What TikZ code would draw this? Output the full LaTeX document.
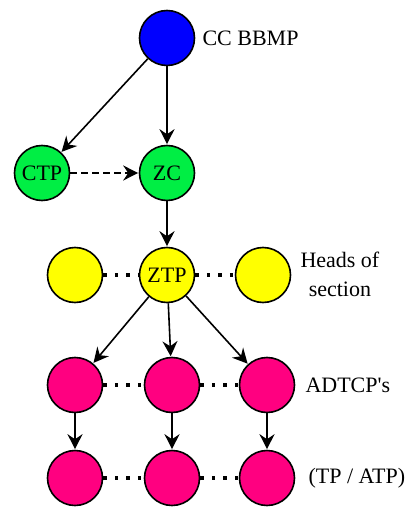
\documentclass[tikz,border=0pt]{standalone}
\usepackage{fontspec}
\setmainfont{Liberation Serif}[Ligatures=TeXOff]
\usetikzlibrary{positioning,arrows.meta}

\definecolor{cc}{HTML}{0000FF}
\definecolor{zone}{HTML}{00EE44}
\definecolor{heads}{HTML}{FFFF00}
\definecolor{staff}{HTML}{FF0080}

\newcommand{\bigtext}{\fontsize{22pt}{29pt}\selectfont}

\tikzset{
    post/.style={circle,draw,line width=1.6pt,minimum size=55pt,inner sep=0pt,font=\bigtext},
    lbl/.style={anchor=west,align=center,inner sep=0pt,font=\bigtext},
    arr/.style={-{Stealth[length=15pt,width=15pt,inset=5pt]},line width=1.6pt,shorten >=0.5pt},
    dots/.style={line width=3.5pt,dash pattern=on 3.5pt off 8pt}
}

\begin{document}
\begin{tikzpicture}[x=1pt,y=-1pt,on grid]
        \useasboundingbox (0,0) rectangle (408,510);
        \node[post,fill=cc] (bbmp) at (167,38) {};
        \node[post,fill=zone] (zc) [below=135pt of bbmp] {ZC};
        \node[post,fill=zone] (ctp) [left=125pt of zc] {CTP};
        \node[post,fill=heads] (ztp) [below=102pt of zc] {ZTP};
        \node[post,fill=heads] (hl) [left=92pt of ztp] {};
        \node[post,fill=heads] (hr) [right=96pt of ztp] {};
        \node[post,fill=staff] (a1) [below=110pt of hl] {};
        \node[post,fill=staff] (a2) [right=97pt of a1] {};
        \node[post,fill=staff] (a3) [right=95pt of a2] {};
        \node[post,fill=staff] (b1) [below=93pt of a1] {};
        \node[post,fill=staff] (b2) [below=93pt of a2] {};
        \node[post,fill=staff] (b3) [below=93pt of a3] {};
        % labels on the right
        \node[lbl] (t_cc) at ([xshift=7pt]bbmp.east) {CC BBMP};
        \node[lbl] (t_heads) at ([xshift=9pt,yshift=1pt]hr.east) {Heads of\\section};
        \node[lbl] (t_adtcp) at ([xshift=10pt]a3.east) {ADTCP's};
        \node[lbl] (t_tp) at ([xshift=13pt]b3.east) {(TP / ATP)};
        \path[arr]
            (bbmp) edge (ctp)
                   edge (zc)
            (zc)   edge (ztp)
            (ztp)  edge (a1)
                   edge (a2)
                   edge (a3)
            (a1)   edge (b1)
            (a2)   edge (b2)
            (a3)   edge (b3);
        \draw[arr,dash pattern=on 7pt off 4pt] (ctp) -- (zc);
        \draw[dots] (hl) -- (ztp) (ztp) -- (hr)
                    (a1) -- (a2) (a2) -- (a3)
                    (b1) -- (b2) (b2) -- (b3);
\end{tikzpicture}
\end{document}
